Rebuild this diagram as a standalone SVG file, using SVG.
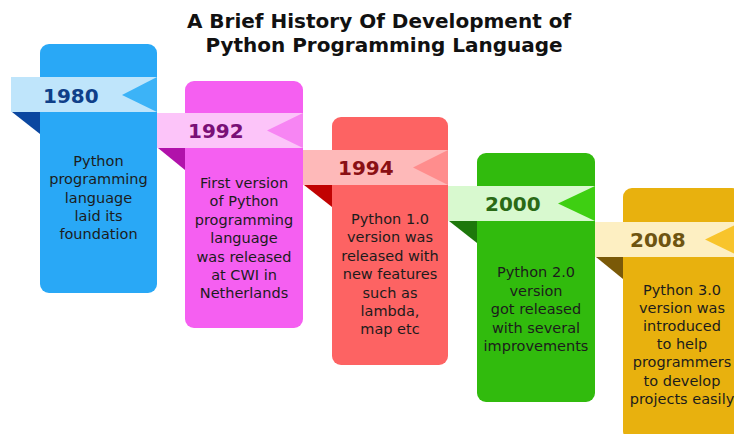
<svg xmlns="http://www.w3.org/2000/svg" width="734" height="434" viewBox="0 0 734 434">
<style>
.title{font-family:"DejaVu Sans","Verdana",sans-serif;font-weight:bold;font-size:20px;fill:#111;text-anchor:middle}
.year{font-family:"DejaVu Sans","Verdana",sans-serif;font-weight:bold;font-size:20px}
.body{font-family:"DejaVu Sans","Verdana",sans-serif;font-size:14.5px;fill:#1c1c1c;text-anchor:middle}
</style>
<rect width="734" height="434" fill="#ffffff"/>
<text class="title" x="379" y="28">A Brief History Of Development of</text>
<text class="title" x="384" y="52">Python Programming Language</text>

<g id="node-1980">
<rect x="40" y="44" width="117" height="249" rx="9" fill="#29a8f6"/>
<polygon points="11,77 157,77 157,112 11,112" fill="#bfe5fb"/>
<polygon points="157,77 122,95 157,112" fill="#3cb3f7"/>
<polygon points="12,112 40,112 40,134" fill="#0b47a0"/>
<text class="year" x="43" y="102.5" fill="#0f3f89">1980</text>
<text class="body" x="98.5" y="166">Python<tspan x="98.5" dy="18.3">programming</tspan><tspan x="98.5" dy="18.3">language</tspan><tspan x="98.5" dy="18.3">laid its</tspan><tspan x="98.5" dy="18.3">foundation</tspan></text>
</g>

<g id="node-1992">
<rect x="185" y="81" width="118" height="247" rx="9" fill="#f55ff1"/>
<polygon points="157,113 303,113 303,148 157,148" fill="#fcc4f9"/>
<polygon points="303,113 267,130.5 303,148" fill="#f785f3"/>
<polygon points="158,148 185,148 185,170" fill="#b112aa"/>
<text class="year" x="188" y="138" fill="#7a0f77">1992</text>
<text class="body" x="244" y="188">First version<tspan x="244" dy="18.4">of Python</tspan><tspan x="244" dy="18.4">programming</tspan><tspan x="244" dy="18.4">language</tspan><tspan x="244" dy="18.4">was released</tspan><tspan x="244" dy="18.4">at CWI in</tspan><tspan x="244" dy="18.4">Netherlands</tspan></text>
</g>

<g id="node-1994">
<rect x="332" y="117" width="116" height="248" rx="9" fill="#fd6363"/>
<polygon points="303,150 448,150 448,185 303,185" fill="#feb9b9"/>
<polygon points="448,150 413,167.5 448,185" fill="#ff8d8d"/>
<polygon points="304,185 332,185 332,207" fill="#c10303"/>
<text class="year" x="338" y="175" fill="#8a0f14">1994</text>
<text class="body" x="390" y="224">Python 1.0<tspan x="390" dy="18.4">version was</tspan><tspan x="390" dy="18.4">released with</tspan><tspan x="390" dy="18.4">new features</tspan><tspan x="390" dy="18.4">such as</tspan><tspan x="390" dy="18.4">lambda,</tspan><tspan x="390" dy="18.4">map etc</tspan></text>
</g>

<g id="node-2000">
<rect x="477" y="153" width="118" height="249" rx="9" fill="#31bb0d"/>
<polygon points="448,186 595,186 595,221 448,221" fill="#d8f9cf"/>
<polygon points="595,186 558,203.5 595,221" fill="#3ecf12"/>
<polygon points="449,221 477,221 477,243" fill="#1d780b"/>
<text class="year" x="485" y="211" fill="#2a6a16">2000</text>
<text class="body" x="536" y="277">Python 2.0<tspan x="536" dy="18.6">version</tspan><tspan x="536" dy="18.6">got released</tspan><tspan x="536" dy="18.6">with several</tspan><tspan x="536" dy="18.6">improvements</tspan></text>
</g>

<g id="node-2008">
<rect x="623" y="188" width="118" height="252" rx="9" fill="#e8b10e"/>
<polygon points="595,222 741,222 741,257 595,257" fill="#fdefc2"/>
<polygon points="741,222 705,239.5 741,257" fill="#f8c42b"/>
<polygon points="596,257 623,257 623,279" fill="#7a5908"/>
<text class="year" x="630" y="247" fill="#6e5410">2008</text>
<text class="body" x="682" y="295">Python 3.0<tspan x="682" dy="18.1">version was</tspan><tspan x="682" dy="18.1">introduced</tspan><tspan x="682" dy="18.1">to help</tspan><tspan x="682" dy="18.1">programmers</tspan><tspan x="682" dy="18.1">to develop</tspan><tspan x="682" dy="18.1">projects easily</tspan></text>
</g>

<g id="connectors"></g>
</svg>
